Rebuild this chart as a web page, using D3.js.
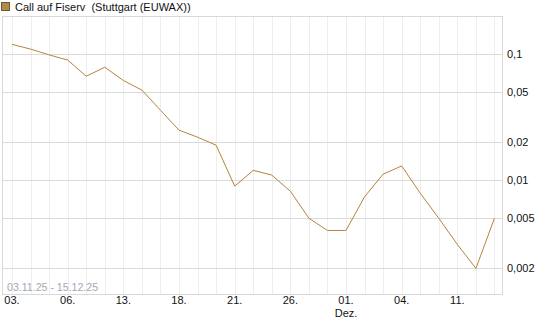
<!DOCTYPE html>
<html><head><meta charset="utf-8">
<script src="https://cdn.jsdelivr.net/npm/d3@7"></script>
<style>body{margin:0;background:#fff;}svg{display:block;font-family:"Liberation Sans",Arial,sans-serif;}</style>
</head><body><svg id="c" width="545" height="327"></svg>
<script>
const title = "Call auf Fiserv  (Stuttgart (EUWAX))";
const rangeLabel = "03.11.25 - 15.12.25";
const dates = ["03.11","04.11","05.11","06.11","07.11","10.11","13.11","14.11","17.11","18.11",
  "19.11","20.11","21.11","24.11","25.11","26.11","27.11","28.11","01.12","02.12",
  "03.12","04.12","05.12","08.12","11.12","12.12","15.12"];
const values = [0.12,0.11,0.099,0.09,0.067,0.079,0.062,0.052,0.036,0.025,
  0.022,0.019,0.009,0.012,0.011,0.0082,0.005,0.004,0.004,0.0074,
  0.0112,0.013,0.0079,0.005,0.0031,0.002,0.005];
const xTickDates = ["03.11","06.11","13.11","18.11","21.11","26.11","01.12","04.12","11.12"];
const xTickLabels = ["03.","06.","13.","18.","21.","26.","01.","04.","11."];
const monthLabels = [{date:"01.12", text:"Dez."}];
const yTicks = [0.1,0.05,0.02,0.01,0.005,0.002];
const yTickLabels = ["0,1","0,05","0,02","0,01","0,005","0,002"];

const svg = d3.select("#c");
const L=2, R=503, T=16, B=294;
const x = d3.scaleLinear().domain([-0.54, dates.length-1+0.46]).range([L,R]);
const y = d3.scaleLog().domain([0.001253, 0.2014]).range([B,T]);
const idx = d => dates.indexOf(d);

// vertical grid
svg.append("g").selectAll("line").data(dates).join("line")
  .attr("x1",(d,i)=>Math.round(x(i))+0.5).attr("x2",(d,i)=>Math.round(x(i))+0.5)
  .attr("y1",T).attr("y2",B).attr("stroke","#eeeeee");
// horizontal grid
svg.append("g").selectAll("line").data(yTicks).join("line")
  .attr("x1",L).attr("x2",R)
  .attr("y1",d=>Math.round(y(d))+0.5).attr("y2",d=>Math.round(y(d))+0.5)
  .attr("stroke","#dadada");
// border
svg.append("rect").attr("x",L+0.5).attr("y",T+0.5).attr("width",R-L-1).attr("height",B-T)
  .attr("fill","none").attr("stroke","#d9d9d9");

// range text
svg.append("text").attr("x",7).attr("y",291).attr("font-size",10.6).attr("fill","#a3a8b4").text(rangeLabel);

// line
svg.append("path").datum(values)
  .attr("d", d3.line().x((d,i)=>x(i)).y(d=>y(d)))
  .attr("fill","none").attr("stroke","#b5853a").attr("stroke-width",1);

// y labels
svg.append("g").selectAll("text").data(yTicks).join("text")
  .attr("x",507).attr("y",d=>y(d)+4).attr("font-size",11).attr("fill","#111")
  .text((d,i)=>yTickLabels[i]);

// x labels
svg.append("g").selectAll("text").data(xTickDates).join("text")
  .attr("x",d=>x(idx(d))).attr("y",304).attr("text-anchor","middle")
  .attr("font-size",11).attr("fill","#111").text((d,i)=>xTickLabels[i]);
svg.append("g").selectAll("text").data(monthLabels).join("text")
  .attr("x",d=>x(idx(d.date))).attr("y",317).attr("text-anchor","middle")
  .attr("font-size",11).attr("fill","#111").text(d=>d.text);

// title
svg.append("rect").attr("x",1.5).attr("y",2.5).attr("width",8).attr("height",8)
  .attr("fill","#b38a4c").attr("stroke","#6d5934");
svg.append("text").attr("x",15).attr("y",11).attr("font-size",11).attr("fill","#111")
  .style("white-space","pre").text(title);
</script></body></html>
